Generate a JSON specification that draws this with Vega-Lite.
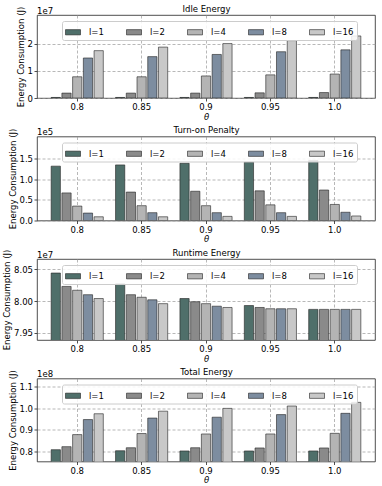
{
  "$schema": "https://vega.github.io/schema/vega-lite/v6.json",
  "padding": {"left": 1, "top": 3, "right": 5, "bottom": 1},
  "config": {
    "font": "DejaVu Sans",
    "view": {"stroke": "#222", "strokeWidth": 0.8},
    "axis": {"labelFont": "DejaVu Sans", "labelFontSize": 8.5, "labelColor": "#000", "titleFont": "DejaVu Sans", "titleFontSize": 8.5, "titleFontWeight": "normal", "titleColor": "#000", "domain": false, "tickColor": "#222", "tickSize": 3, "tickWidth": 0.8, "labelPadding": 1.5, "titlePadding": 3, "gridColor": "#9a9a9a", "gridDash": [3, 2], "gridWidth": 0.7},
    "title": {"font": "DejaVu Sans", "fontSize": 8.5, "fontWeight": "normal", "color": "#000"},
    "legend": {"title": null, "orient": "none", "legendX": 25, "legendY": 6, "zindex": 1, "direction": "horizontal", "symbolType": "M-1,-0.35H1V0.35H-1Z", "symbolSize": 225, "symbolStrokeColor": "#222", "symbolStrokeWidth": 0.6, "symbolOpacity": 1, "labelFont": "DejaVu Sans", "labelFontSize": 8.5, "labelColor": "#000", "labelOffset": 8, "columnPadding": 21, "padding": 3, "fillColor": "rgba(255,255,255,0.85)", "strokeColor": "#cccccc", "cornerRadius": 2}
  },
  "data": {"values": [
    {"panel": "idle", "theta": "0.8", "l": "l=1", "value": 200000},
    {"panel": "idle", "theta": "0.8", "l": "l=2", "value": 1800000},
    {"panel": "idle", "theta": "0.8", "l": "l=4", "value": 7800000},
    {"panel": "idle", "theta": "0.8", "l": "l=8", "value": 14700000},
    {"panel": "idle", "theta": "0.8", "l": "l=16", "value": 17400000},
    {"panel": "idle", "theta": "0.85", "l": "l=1", "value": 200000},
    {"panel": "idle", "theta": "0.85", "l": "l=2", "value": 1800000},
    {"panel": "idle", "theta": "0.85", "l": "l=4", "value": 7800000},
    {"panel": "idle", "theta": "0.85", "l": "l=8", "value": 15200000},
    {"panel": "idle", "theta": "0.85", "l": "l=16", "value": 18700000},
    {"panel": "idle", "theta": "0.9", "l": "l=1", "value": 200000},
    {"panel": "idle", "theta": "0.9", "l": "l=2", "value": 1800000},
    {"panel": "idle", "theta": "0.9", "l": "l=4", "value": 8100000},
    {"panel": "idle", "theta": "0.9", "l": "l=8", "value": 16000000},
    {"panel": "idle", "theta": "0.9", "l": "l=16", "value": 20000000},
    {"panel": "idle", "theta": "0.95", "l": "l=1", "value": 200000},
    {"panel": "idle", "theta": "0.95", "l": "l=2", "value": 1900000},
    {"panel": "idle", "theta": "0.95", "l": "l=4", "value": 8500000},
    {"panel": "idle", "theta": "0.95", "l": "l=8", "value": 17000000},
    {"panel": "idle", "theta": "0.95", "l": "l=16", "value": 21100000},
    {"panel": "idle", "theta": "1.0", "l": "l=1", "value": 200000},
    {"panel": "idle", "theta": "1.0", "l": "l=2", "value": 2000000},
    {"panel": "idle", "theta": "1.0", "l": "l=4", "value": 8800000},
    {"panel": "idle", "theta": "1.0", "l": "l=8", "value": 17700000},
    {"panel": "idle", "theta": "1.0", "l": "l=16", "value": 22800000},
    {"panel": "turn", "theta": "0.8", "l": "l=1", "value": 132000},
    {"panel": "turn", "theta": "0.8", "l": "l=2", "value": 67000},
    {"panel": "turn", "theta": "0.8", "l": "l=4", "value": 35000},
    {"panel": "turn", "theta": "0.8", "l": "l=8", "value": 18000},
    {"panel": "turn", "theta": "0.8", "l": "l=16", "value": 9000},
    {"panel": "turn", "theta": "0.85", "l": "l=1", "value": 135000},
    {"panel": "turn", "theta": "0.85", "l": "l=2", "value": 69000},
    {"panel": "turn", "theta": "0.85", "l": "l=4", "value": 36000},
    {"panel": "turn", "theta": "0.85", "l": "l=8", "value": 19000},
    {"panel": "turn", "theta": "0.85", "l": "l=16", "value": 9000},
    {"panel": "turn", "theta": "0.9", "l": "l=1", "value": 139000},
    {"panel": "turn", "theta": "0.9", "l": "l=2", "value": 71000},
    {"panel": "turn", "theta": "0.9", "l": "l=4", "value": 36000},
    {"panel": "turn", "theta": "0.9", "l": "l=8", "value": 19000},
    {"panel": "turn", "theta": "0.9", "l": "l=16", "value": 10000},
    {"panel": "turn", "theta": "0.95", "l": "l=1", "value": 142000},
    {"panel": "turn", "theta": "0.95", "l": "l=2", "value": 72000},
    {"panel": "turn", "theta": "0.95", "l": "l=4", "value": 38000},
    {"panel": "turn", "theta": "0.95", "l": "l=8", "value": 19000},
    {"panel": "turn", "theta": "0.95", "l": "l=16", "value": 10000},
    {"panel": "turn", "theta": "1.0", "l": "l=1", "value": 146000},
    {"panel": "turn", "theta": "1.0", "l": "l=2", "value": 74000},
    {"panel": "turn", "theta": "1.0", "l": "l=4", "value": 39000},
    {"panel": "turn", "theta": "1.0", "l": "l=8", "value": 20000},
    {"panel": "turn", "theta": "1.0", "l": "l=16", "value": 11000},
    {"panel": "run", "theta": "0.8", "l": "l=1", "value": 80440000},
    {"panel": "run", "theta": "0.8", "l": "l=2", "value": 80230000},
    {"panel": "run", "theta": "0.8", "l": "l=4", "value": 80170000},
    {"panel": "run", "theta": "0.8", "l": "l=8", "value": 80100000},
    {"panel": "run", "theta": "0.8", "l": "l=16", "value": 80040000},
    {"panel": "run", "theta": "0.85", "l": "l=1", "value": 80270000},
    {"panel": "run", "theta": "0.85", "l": "l=2", "value": 80100000},
    {"panel": "run", "theta": "0.85", "l": "l=4", "value": 80060000},
    {"panel": "run", "theta": "0.85", "l": "l=8", "value": 80020000},
    {"panel": "run", "theta": "0.85", "l": "l=16", "value": 79960000},
    {"panel": "run", "theta": "0.9", "l": "l=1", "value": 80040000},
    {"panel": "run", "theta": "0.9", "l": "l=2", "value": 79990000},
    {"panel": "run", "theta": "0.9", "l": "l=4", "value": 79960000},
    {"panel": "run", "theta": "0.9", "l": "l=8", "value": 79920000},
    {"panel": "run", "theta": "0.9", "l": "l=16", "value": 79900000},
    {"panel": "run", "theta": "0.95", "l": "l=1", "value": 79930000},
    {"panel": "run", "theta": "0.95", "l": "l=2", "value": 79900000},
    {"panel": "run", "theta": "0.95", "l": "l=4", "value": 79880000},
    {"panel": "run", "theta": "0.95", "l": "l=8", "value": 79880000},
    {"panel": "run", "theta": "0.95", "l": "l=16", "value": 79880000},
    {"panel": "run", "theta": "1.0", "l": "l=1", "value": 79870000},
    {"panel": "run", "theta": "1.0", "l": "l=2", "value": 79870000},
    {"panel": "run", "theta": "1.0", "l": "l=4", "value": 79870000},
    {"panel": "run", "theta": "1.0", "l": "l=8", "value": 79870000},
    {"panel": "run", "theta": "1.0", "l": "l=16", "value": 79870000},
    {"panel": "total", "theta": "0.8", "l": "l=1", "value": 80800000},
    {"panel": "total", "theta": "0.8", "l": "l=2", "value": 82200000},
    {"panel": "total", "theta": "0.8", "l": "l=4", "value": 87800000},
    {"panel": "total", "theta": "0.8", "l": "l=8", "value": 94800000},
    {"panel": "total", "theta": "0.8", "l": "l=16", "value": 97500000},
    {"panel": "total", "theta": "0.85", "l": "l=1", "value": 80300000},
    {"panel": "total", "theta": "0.85", "l": "l=2", "value": 81700000},
    {"panel": "total", "theta": "0.85", "l": "l=4", "value": 88300000},
    {"panel": "total", "theta": "0.85", "l": "l=8", "value": 95500000},
    {"panel": "total", "theta": "0.85", "l": "l=16", "value": 98700000},
    {"panel": "total", "theta": "0.9", "l": "l=1", "value": 80200000},
    {"panel": "total", "theta": "0.9", "l": "l=2", "value": 81700000},
    {"panel": "total", "theta": "0.9", "l": "l=4", "value": 88100000},
    {"panel": "total", "theta": "0.9", "l": "l=8", "value": 95900000},
    {"panel": "total", "theta": "0.9", "l": "l=16", "value": 100000000},
    {"panel": "total", "theta": "0.95", "l": "l=1", "value": 80200000},
    {"panel": "total", "theta": "0.95", "l": "l=2", "value": 81600000},
    {"panel": "total", "theta": "0.95", "l": "l=4", "value": 88100000},
    {"panel": "total", "theta": "0.95", "l": "l=8", "value": 97100000},
    {"panel": "total", "theta": "0.95", "l": "l=16", "value": 101100000},
    {"panel": "total", "theta": "1.0", "l": "l=1", "value": 80200000},
    {"panel": "total", "theta": "1.0", "l": "l=2", "value": 81600000},
    {"panel": "total", "theta": "1.0", "l": "l=4", "value": 88400000},
    {"panel": "total", "theta": "1.0", "l": "l=8", "value": 97700000},
    {"panel": "total", "theta": "1.0", "l": "l=16", "value": 102800000}
  ]},
  "spacing": 3.5,
  "resolve": {"scale": {"y": "independent", "x": "independent", "color": "independent", "xOffset": "independent"}, "legend": {"color": "independent"}},
  "vconcat": [
    {
      "width": 338, "height": 83,
      "title": {"text": "1e7", "anchor": "start", "frame": "group", "offset": -11},
      "transform": [{"filter": "datum.panel === 'idle'"}],
      "resolve": {"axis": {"x": "independent"}},
      "layer": [
        {
          "mark": {"type": "bar", "clip": true, "stroke": "#222", "strokeWidth": 0.6},
          "encoding": {
            "x": {"field": "theta", "type": "ordinal", "sort": ["0.8", "0.85", "0.9", "0.95", "1.0"], "scale": {"paddingInner": 0.19, "paddingOuter": 0.22}, "axis": {"title": "θ", "titleFontStyle": "italic", "labelAngle": 0, "grid": true, "titlePadding": 1}},
            "xOffset": {"field": "l", "type": "nominal", "sort": ["l=1", "l=2", "l=4", "l=8", "l=16"], "scale": {"paddingInner": 0.14}},
            "y": {"field": "value", "type": "quantitative", "scale": {"domain": [0, 30500000], "nice": false}, "axis": {"title": "Energy Consumption (J)", "titleX": -11.5, "titleY": 41.5, "values": [0, 10000000, 20000000], "labelExpr": "format(datum.value/1e7, 'd')", "grid": true}},
            "color": {"field": "l", "type": "nominal", "sort": ["l=1", "l=2", "l=4", "l=8", "l=16"], "scale": {"domain": ["l=1", "l=2", "l=4", "l=8", "l=16"], "range": ["#4f6f6a", "#8a8a8a", "#b4b4b4", "#7d8da0", "#c8c8c8"]}, "legend": {}}
          }
        },
        {
          "mark": {"type": "bar", "opacity": 0},
          "encoding": {
            "x": {"field": "theta", "type": "ordinal", "sort": ["0.8", "0.85", "0.9", "0.95", "1.0"], "axis": {"orient": "top", "title": "Idle Energy", "labels": false, "ticks": false, "grid": false, "domain": false, "titlePadding": 2}}
          }
        }
      ]
    },
    {
      "width": 338, "height": 84,
      "title": {"text": "1e5", "anchor": "start", "frame": "group", "offset": -11},
      "transform": [{"filter": "datum.panel === 'turn'"}],
      "resolve": {"axis": {"x": "independent"}},
      "layer": [
        {
          "mark": {"type": "bar", "clip": true, "stroke": "#222", "strokeWidth": 0.6},
          "encoding": {
            "x": {"field": "theta", "type": "ordinal", "sort": ["0.8", "0.85", "0.9", "0.95", "1.0"], "scale": {"paddingInner": 0.19, "paddingOuter": 0.22}, "axis": {"title": "θ", "titleFontStyle": "italic", "labelAngle": 0, "grid": true, "titlePadding": 1}},
            "xOffset": {"field": "l", "type": "nominal", "sort": ["l=1", "l=2", "l=4", "l=8", "l=16"], "scale": {"paddingInner": 0.14}},
            "y": {"field": "value", "type": "quantitative", "scale": {"domain": [0, 204000], "nice": false}, "axis": {"title": "Energy Consumption (J)", "titleX": -20, "titleY": 42, "values": [0, 50000, 100000, 150000], "labelExpr": "format(datum.value/1e5, '.1f')", "grid": true}},
            "color": {"field": "l", "type": "nominal", "sort": ["l=1", "l=2", "l=4", "l=8", "l=16"], "scale": {"domain": ["l=1", "l=2", "l=4", "l=8", "l=16"], "range": ["#4f6f6a", "#8a8a8a", "#b4b4b4", "#7d8da0", "#c8c8c8"]}, "legend": {}}
          }
        },
        {
          "mark": {"type": "bar", "opacity": 0},
          "encoding": {
            "x": {"field": "theta", "type": "ordinal", "sort": ["0.8", "0.85", "0.9", "0.95", "1.0"], "axis": {"orient": "top", "title": "Turn-on Penalty", "labels": false, "ticks": false, "grid": false, "domain": false, "titlePadding": 2}}
          }
        }
      ]
    },
    {
      "width": 338, "height": 81,
      "title": {"text": "1e7", "anchor": "start", "frame": "group", "offset": -11},
      "transform": [{"filter": "datum.panel === 'run'"}],
      "resolve": {"axis": {"x": "independent"}},
      "layer": [
        {
          "mark": {"type": "bar", "clip": true, "stroke": "#222", "strokeWidth": 0.6},
          "encoding": {
            "x": {"field": "theta", "type": "ordinal", "sort": ["0.8", "0.85", "0.9", "0.95", "1.0"], "scale": {"paddingInner": 0.19, "paddingOuter": 0.22}, "axis": {"title": "θ", "titleFontStyle": "italic", "labelAngle": 0, "grid": true, "titlePadding": 1}},
            "xOffset": {"field": "l", "type": "nominal", "sort": ["l=1", "l=2", "l=4", "l=8", "l=16"], "scale": {"paddingInner": 0.14}},
            "y": {"field": "value", "type": "quantitative", "scale": {"domain": [79390000, 80660000], "nice": false, "zero": false}, "axis": {"title": "Energy Consumption (J)", "titleX": -26, "titleY": 40.5, "values": [79500000, 80000000, 80500000], "labelExpr": "format(datum.value/1e7, '.2f')", "grid": true}},
            "color": {"field": "l", "type": "nominal", "sort": ["l=1", "l=2", "l=4", "l=8", "l=16"], "scale": {"domain": ["l=1", "l=2", "l=4", "l=8", "l=16"], "range": ["#4f6f6a", "#8a8a8a", "#b4b4b4", "#7d8da0", "#c8c8c8"]}, "legend": {}}
          }
        },
        {
          "mark": {"type": "bar", "opacity": 0},
          "encoding": {
            "x": {"field": "theta", "type": "ordinal", "sort": ["0.8", "0.85", "0.9", "0.95", "1.0"], "axis": {"orient": "top", "title": "Runtime Energy", "labels": false, "ticks": false, "grid": false, "domain": false, "titlePadding": 2}}
          }
        }
      ]
    },
    {
      "width": 338, "height": 83,
      "title": {"text": "1e8", "anchor": "start", "frame": "group", "offset": -11},
      "transform": [{"filter": "datum.panel === 'total'"}],
      "resolve": {"axis": {"x": "independent"}},
      "layer": [
        {
          "mark": {"type": "bar", "clip": true, "stroke": "#222", "strokeWidth": 0.6},
          "encoding": {
            "x": {"field": "theta", "type": "ordinal", "sort": ["0.8", "0.85", "0.9", "0.95", "1.0"], "scale": {"paddingInner": 0.19, "paddingOuter": 0.22}, "axis": {"title": "θ", "titleFontStyle": "italic", "labelAngle": 0, "grid": true, "titlePadding": 1}},
            "xOffset": {"field": "l", "type": "nominal", "sort": ["l=1", "l=2", "l=4", "l=8", "l=16"], "scale": {"paddingInner": 0.14}},
            "y": {"field": "value", "type": "quantitative", "scale": {"domain": [75300000, 113900000], "nice": false, "zero": false}, "axis": {"title": "Energy Consumption (J)", "titleX": -19.5, "titleY": 41.5, "values": [80000000, 90000000, 100000000, 110000000], "labelExpr": "format(datum.value/1e8, '.1f')", "grid": true}},
            "color": {"field": "l", "type": "nominal", "sort": ["l=1", "l=2", "l=4", "l=8", "l=16"], "scale": {"domain": ["l=1", "l=2", "l=4", "l=8", "l=16"], "range": ["#4f6f6a", "#8a8a8a", "#b4b4b4", "#7d8da0", "#c8c8c8"]}, "legend": {}}
          }
        },
        {
          "mark": {"type": "bar", "opacity": 0},
          "encoding": {
            "x": {"field": "theta", "type": "ordinal", "sort": ["0.8", "0.85", "0.9", "0.95", "1.0"], "axis": {"orient": "top", "title": "Total Energy", "labels": false, "ticks": false, "grid": false, "domain": false, "titlePadding": 2}}
          }
        }
      ]
    }
  ]
}
